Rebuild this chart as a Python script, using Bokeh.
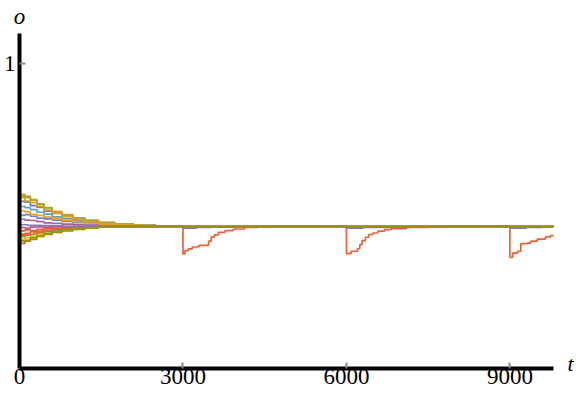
from bokeh.plotting import figure
from bokeh.models import Range1d, FixedTicker, LinearAxis
from bokeh.embed import file_html
from bokeh.resources import INLINE

# ---- data ----
X_TICKS = [0, 3000, 6000, 9000]
Y_TICKS = [1]
T_INIT = [0, 100, 200, 320, 450, 600, 780, 980, 1200, 1450, 1750, 2100, 2500, 9800]

O_ORANGE = [0.572, 0.566, 0.552, 0.541, 0.528, 0.516, 0.505, 0.495, 0.487, 0.480, 0.474, 0.470, 0.468, 0.467]
O_GREEN = [0.566, 0.561, 0.555, 0.538, 0.527, 0.512, 0.502, 0.494, 0.484, 0.478, 0.473, 0.470, 0.468, 0.467]
O_ORANGE3 = [0.561, 0.550, 0.545, 0.532, 0.520, 0.511, 0.499, 0.490, 0.483, 0.476, 0.472, 0.469, 0.468, 0.467]
O_BLUE = [0.549, 0.546, 0.535, 0.529, 0.517, 0.509, 0.500, 0.491, 0.486, 0.479, 0.474, 0.471, 0.468, 0.467]
O_LBLUE = [0.532, 0.528, 0.522, 0.513, 0.507, 0.498, 0.492, 0.486, 0.480, 0.476, 0.472, 0.469, 0.468, 0.467]
O_ORANGE2 = [0.518, 0.514, 0.506, 0.503, 0.497, 0.491, 0.487, 0.482, 0.477, 0.474, 0.471, 0.469, 0.468, 0.467]
O_BLUE2 = [0.503, 0.505, 0.500, 0.494, 0.491, 0.487, 0.483, 0.479, 0.476, 0.473, 0.470, 0.468, 0.467, 0.467]
O_MAGENTA = [0.490, 0.487, 0.486, 0.482, 0.478, 0.477, 0.474, 0.472, 0.471, 0.469, 0.468, 0.467, 0.467, 0.467]
O_PINK = [0.463, 0.461, 0.464, 0.465, 0.464, 0.466, 0.466, 0.467, 0.467, 0.467, 0.467, 0.467, 0.467, 0.467]
O_RED2 = [0.452, 0.455, 0.453, 0.457, 0.459, 0.461, 0.462, 0.464, 0.465, 0.466, 0.466, 0.467, 0.467, 0.467]
O_RED = [0.441, 0.444, 0.449, 0.450, 0.454, 0.457, 0.460, 0.462, 0.464, 0.465, 0.466, 0.467, 0.467, 0.467]
O_GREEN2 = [0.433, 0.437, 0.440, 0.446, 0.449, 0.453, 0.457, 0.460, 0.463, 0.465, 0.466, 0.467, 0.467, 0.467]
O_YELLOW = [0.424, 0.429, 0.432, 0.440, 0.444, 0.450, 0.454, 0.459, 0.462, 0.464, 0.466, 0.467, 0.467, 0.467]
O_BROWN = [0.411, 0.418, 0.424, 0.434, 0.440, 0.447, 0.452, 0.457, 0.461, 0.464, 0.466, 0.467, 0.467, 0.467]
O_OLIVE = [0.419, 0.421, 0.430, 0.435, 0.443, 0.448, 0.455, 0.458, 0.462, 0.464, 0.466, 0.467, 0.467, 0.467]

T_PURPLE = [0, 150, 400, 800, 3000, 3250, 3550, 3900, 4400, 6000, 6300, 6700, 7200, 9000, 9300, 9600, 9800]
O_PURPLE = [0.472, 0.470, 0.469, 0.467, 0.461, 0.463, 0.465, 0.466, 0.467, 0.461, 0.463, 0.465, 0.467, 0.461, 0.463, 0.465, 0.465]

T_DIP = [0, 120, 260, 420, 600, 850, 1200,
         3000, 3036, 3097, 3170, 3290, 3470, 3519, 3579, 3651, 3772, 3923, 4134, 4375, 4700,
         6000, 6083, 6203, 6246, 6288, 6348, 6409, 6487, 6577, 6698, 6818, 7100, 7500, 7900,
         9000, 9050, 9141, 9201, 9322, 9382, 9503, 9653, 9744, 9800]
O_DIP = [0.436, 0.440, 0.446, 0.452, 0.458, 0.463, 0.467,
         0.376, 0.387, 0.393, 0.399, 0.404, 0.418, 0.432, 0.439, 0.447, 0.453, 0.458, 0.463, 0.466, 0.467,
         0.377, 0.385, 0.394, 0.407, 0.420, 0.431, 0.440, 0.445, 0.451, 0.456, 0.459, 0.463, 0.466, 0.467,
         0.365, 0.379, 0.385, 0.410, 0.412, 0.418, 0.425, 0.432, 0.436, 0.440]

SERIES = [
    (T_INIT, O_BLUE, "#5E81B5"),
    (T_INIT, O_ORANGE, "#E19C24"),
    (T_INIT, O_GREEN, "#8FB032"),
    (T_INIT, O_RED, "#EB6235"),
    (T_INIT, O_BROWN, "#C56E1A"),
    (T_INIT, O_LBLUE, "#5D9EC7"),
    (T_INIT, O_YELLOW, "#FFBF00"),
    (T_INIT, O_MAGENTA, "#A5609D"),
    (T_INIT, O_RED2, "#E95536"),
    (T_INIT, O_BLUE2, "#6685D9"),
    (T_INIT, O_ORANGE2, "#F89F13"),
    (T_INIT, O_PINK, "#BC5B80"),
    (T_INIT, O_GREEN2, "#47B66D"),
    (T_INIT, O_ORANGE3, "#E19C24"),
    (T_DIP, O_DIP, "#EB6235"),
    (T_PURPLE, O_PURPLE, "#8778B3"),
    (T_INIT, O_OLIVE, "#929600"),
]

X_LABEL = "t"
Y_LABEL = "o"
FONT = "Liberation Serif"

p = figure(width=576, height=401, x_range=Range1d(0, 9800), y_range=Range1d(0, 1.1),
           output_backend="svg", toolbar_location=None,
           min_border_left=16, min_border_right=18, min_border_top=33, min_border_bottom=33)
p.outline_line_color = None
p.grid.visible = False
p.background_fill_color = "white"
p.border_fill_color = "white"

for t, o, c in SERIES:
    p.step(t, o, mode="after", line_color=c, line_width=1.7)


def style_main(ax, ticks):
    ax.ticker = FixedTicker(ticks=ticks, minor_ticks=[])
    ax.axis_line_width = 4
    ax.axis_line_color = "black"
    ax.major_tick_in = 6
    ax.major_tick_out = 0
    ax.major_tick_line_color = "#8a8a8a"
    ax.major_tick_line_width = 2
    ax.minor_tick_line_color = None
    ax.major_label_text_font = FONT
    ax.major_label_text_font_size = "23px"
    ax.major_label_text_color = "black"


xa = p.xaxis[0]
style_main(xa, X_TICKS)
xa.major_label_standoff = 0

ya = p.yaxis[0]
style_main(ya, Y_TICKS)
ya.major_label_standoff = 4


def label_axis(ax, tick, text, size, standoff):
    ax.ticker = FixedTicker(ticks=[tick], minor_ticks=[])
    ax.major_label_overrides = {tick: text}
    ax.axis_line_color = None
    ax.major_tick_line_color = None
    ax.minor_tick_line_color = None
    ax.major_label_text_font = FONT
    ax.major_label_text_font_style = "italic"
    ax.major_label_text_font_size = size
    ax.major_label_text_color = "black"
    ax.major_label_standoff = standoff


# axis name "o" above the left axis
top_ax = LinearAxis()
label_axis(top_ax, 0, Y_LABEL, "23px", -1)
p.add_layout(top_ax, "above")

# axis name "t" to the right of the bottom axis
p.extra_y_ranges = {"tlabel": Range1d(-1, 66)}
right_ax = LinearAxis(y_range_name="tlabel")
label_axis(right_ax, 0, X_LABEL, "22px", 8)
p.add_layout(right_ax, "right")

open("out.html", "w").write(file_html(p, INLINE))
